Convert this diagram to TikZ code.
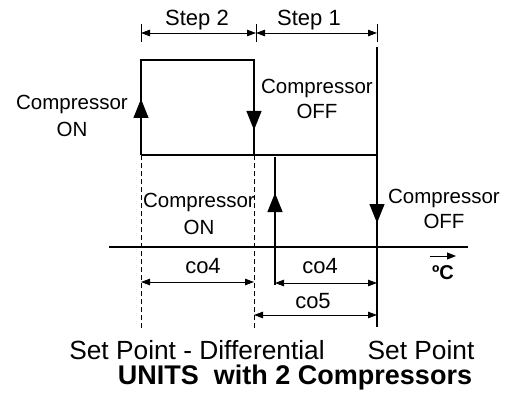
\documentclass[tikz,border=0pt]{standalone}
\usepackage{fontspec}
\setmainfont{Liberation Sans}
\usetikzlibrary{arrows.meta}
\begin{document}
\begin{tikzpicture}[x=1pt,y=-1pt,
  line/.style={line width=1.2pt},
  bigtip/.style={-{Triangle[length=19pt,width=15pt]}},
  dimline/.style={line width=0.8pt,{Triangle[length=9pt,width=6.5pt]}-{Triangle[length=9pt,width=6.5pt]}},
  tick/.style={line width=0.8pt},
  dashline/.style={line width=1pt,dash pattern=on 5pt off 3pt},
  lbl/.style={inner sep=0pt,anchor=base,font=\fontsize{20.5}{24}\selectfont},
  dimlbl/.style={inner sep=0pt,anchor=base,font=\fontsize{22}{26}\selectfont},
  biglbl/.style={inner sep=0pt,anchor=base,font=\fontsize{26.3}{30}\selectfont},
  titlelbl/.style={inner sep=0pt,anchor=base,font=\fontsize{27}{30}\selectfont\bfseries}]
\path[use as bounding box] (0,0) rectangle (514,393);
% key coordinates
\coordinate (LT) at (141,60);
\coordinate (MT) at (254,60);
\coordinate (LB) at (141,155);
\coordinate (MB) at (254,155);
\coordinate (RB) at (377,155);
\coordinate (RT) at (377,47);
\coordinate (RE) at (377,327);
\coordinate (QT) at (275,157);
\coordinate (QE) at (275,285);
\coordinate (LD) at (141,330);
\coordinate (MD) at (254,330);
\coordinate (AX1) at (109,247);
\coordinate (AX2) at (468,247);
% ticks
\coordinate (T1a) at (141,24); \coordinate (T1b) at (141,42);
\coordinate (T2a) at (256,24); \coordinate (T2b) at (256,42);
\coordinate (T3a) at (377,24); \coordinate (T3b) at (377,42);
\draw[tick] (T1a) -- (T1b);
\draw[tick] (T2a) -- (T2b);
\draw[tick] (T3a) -- (T3b);
\coordinate (S1) at (141,33); \coordinate (S2) at (256,33); \coordinate (S3) at (377,33);
\draw[dimline] (S1) -- (S2);
\draw[dimline] (S2) -- (S3);
\node[dimlbl] (step2) at (197,26) {Step 2};
\node[dimlbl] (step1) at (309,26) {Step 1};
% hysteresis lines
\draw[line] (LB) -- (LT) -- (MT) -- (MB);
\draw[line] (LB) -- (RB);
\draw[line] (RT) -- (RE);
\draw[line] (QT) -- (QE);
\draw[line] (AX1) -- (AX2);
\draw[dashline] (LB) -- (LD);
\draw[dashline] (MB) -- (MD);
% arrowheads
\coordinate (A1s) at (141,130); \coordinate (A1e) at (141,99);
\coordinate (A2s) at (254,90);  \coordinate (A2e) at (254,130);
\coordinate (A3s) at (275,230); \coordinate (A3e) at (275,193);
\coordinate (A4s) at (377,180); \coordinate (A4e) at (377,223);
\draw[line,bigtip] (A1s) -- (A1e);
\draw[line,bigtip] (A2s) -- (A2e);
\draw[line,bigtip] (A3s) -- (A3e);
\draw[line,bigtip] (A4s) -- (A4e);
% labels
\node[lbl] (c1) at (72,110) {Compressor};
\node[lbl] (o1) at (72,136) {ON};
\node[lbl] (c2) at (317,94) {Compressor};
\node[lbl] (o2) at (317,119) {OFF};
\node[lbl] (c3) at (199,207) {Compressor};
\node[lbl] (o3) at (199,234) {ON};
\node[lbl] (c4) at (444,203) {Compressor};
\node[lbl] (o4) at (444,228) {OFF};
% dimensions bottom
\coordinate (D1a) at (141,282); \coordinate (D1b) at (254,282);
\coordinate (D2a) at (275,283); \coordinate (D2b) at (377,283);
\coordinate (D3a) at (254,315); \coordinate (D3b) at (377,315);
\draw[dimline] (D1a) -- (D1b);
\draw[dimline] (D2a) -- (D2b);
\draw[dimline] (D3a) -- (D3b);
\node[dimlbl] (co4a) at (203,273) {co4};
\node[dimlbl] (co4b) at (320,273) {co4};
\node[dimlbl] (co5) at (313,308) {co5};
% degree
\coordinate (G1) at (430,256); \coordinate (G2) at (456,256);
\draw[line width=1pt,-{Triangle[length=9pt,width=7pt]}] (G1) -- (G2);
\node[inner sep=0pt,anchor=base,font=\fontsize{20}{24}\selectfont\bfseries] (deg) at (443,279) {ºC};
% bottom texts
\node[biglbl] (spd) at (197,359) {Set Point - Differential};
\node[biglbl] (sp) at (421,359) {Set Point};
\node[titlelbl] (title) at (295,384) {UNITS\ \ with 2 Compressors};
\end{tikzpicture}
\end{document}
